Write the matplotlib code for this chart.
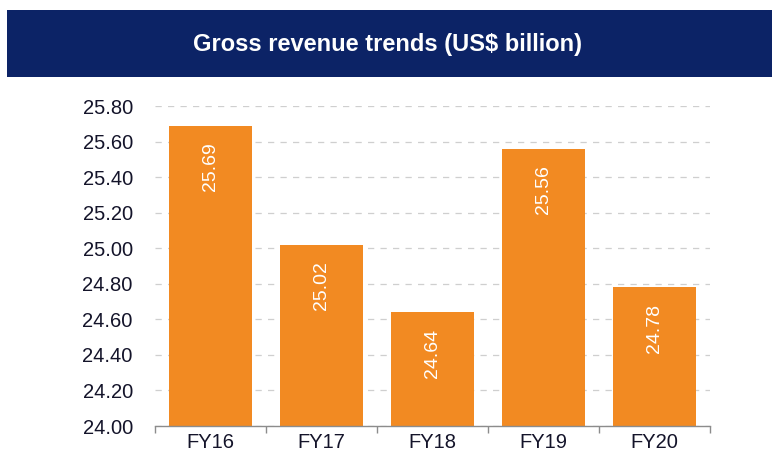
import numpy as np
import matplotlib
matplotlib.use("Agg")
import matplotlib.pyplot as plt
from matplotlib.ticker import MultipleLocator, FixedLocator

plt.rcParams['font.family'] = ['Liberation Sans', 'DejaVu Sans']

# --- data ---
years = ['FY16', 'FY17', 'FY18', 'FY19', 'FY20']
revenue = [25.69, 25.02, 24.64, 25.56, 24.78]
title = 'Gross revenue trends (US$ billion)'

bar_color = '#F28A22'
navy = '#0C2366'

fig = plt.figure(figsize=(7.72, 4.61), dpi=100)

# title banner
banner = fig.add_axes([0.009, 0.833, 0.991, 0.145])
banner.set_facecolor(navy)
banner.set_xticks([])
banner.set_yticks([])
for s in banner.spines.values():
    s.set_visible(False)
banner.text(0.498, 0.48, title, color='white', fontsize=17, fontweight='bold',
            ha='center', va='center', transform=banner.transAxes)

# main chart
ax = fig.add_axes([0.2008, 0.0759, 0.7189, 0.6941])
x = np.arange(len(years))
ax.set_axisbelow(True)
ax.yaxis.grid(True, linestyle=(0, (5, 5)), color='#CFCFCF', linewidth=0.9)
bars = ax.bar(x, revenue, width=0.75, color=bar_color, zorder=2)

for rect, val in zip(bars, revenue):
    ax.annotate(f'{val:.2f}', xy=(rect.get_x() + rect.get_width() / 2, rect.get_height()),
                xytext=(0, -12), textcoords='offset points', rotation=90,
                ha='center', va='top', color='white', fontsize=14, zorder=3)

ax.set_ylim(24.0, 25.8)
ax.set_xlim(-0.5, len(years) - 0.5)
ax.yaxis.set_major_locator(MultipleLocator(0.2))
ax.set_yticklabels([f'{v:.2f}' for v in ax.get_yticks()])
ax.tick_params(axis='y', length=0, pad=16, labelsize=14.5, labelcolor='#14142a')

ax.set_xticks(x)
ax.set_xticklabels(years)
ax.xaxis.set_minor_locator(FixedLocator(np.arange(len(years) + 1) - 0.5))
ax.tick_params(axis='x', which='major', length=0, pad=5, labelsize=14.5, labelcolor='#14142a')
ax.tick_params(axis='x', which='minor', length=5, color='#8C8C8C', width=1)

for side in ['left', 'right', 'top']:
    ax.spines[side].set_visible(False)
ax.spines['bottom'].set_color('#8C8C8C')
ax.spines['bottom'].set_linewidth(1)

fig.savefig('out.png', dpi=100)
